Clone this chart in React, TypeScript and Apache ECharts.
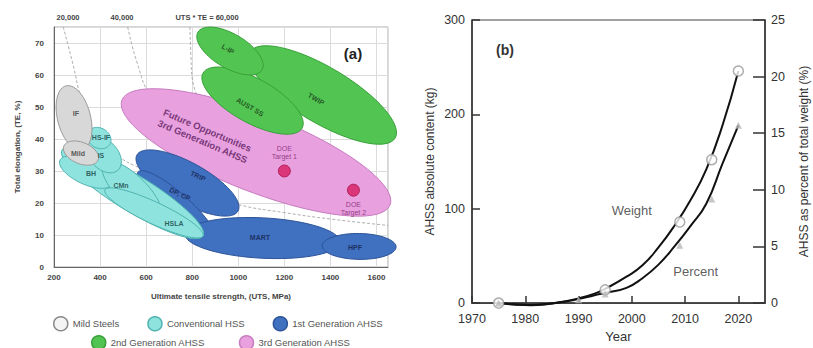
import React, { useEffect, useRef } from "react";
import * as echarts from "echarts";

// ---------- Panel (a) data: regions as [UTS1, TE1, UTS2, TE2, minor/major ratio] ----------
const mildSteels = [
  [252, 56.6, 322, 36.6, 0.5], // IF
  [243, 37.8, 391, 33.4, 0.58], // Mild
];
const conventionalHSS = [
  [235, 36.6, 847, 9.7, 0.22],
  [226, 33.4, 452, 25.9, 0.42], // BH
  [417, 32.5, 660, 15.3, 0.38], // CMn
  [421, 24.1, 847, 9.7, 0.2], // HSLA
  [356, 39.7, 478, 30.3, 0.68], // IS
  [348, 42.2, 443, 38.4, 0.8], // HS-IF
];
const firstGenAHSS = [
  [560, 35.0, 999, 17.5, 0.35], // TRIP
  [565, 29.7, 899, 8.4, 0.25], // DP, CP
  [769, 10.3, 1442, 7.8, 0.26], // MART
  [1364, 6.6, 1685, 6.25, 0.35], // HPF
];
const secondGenAHSS = [
  [1051, 67.2, 1681, 40.3, 0.33], // TWIP
  [847, 60.6, 1277, 43.4, 0.39], // AUST SS
  [825, 73.4, 1103, 61.6, 0.46], // L-IP
];
const thirdGenAHSS = [[495, 52.2, 1659, 19.4, 0.27]];

const doeTargets = [
  [1200, 30],
  [1500, 24],
];

const curve20k = [[240, 75], [280, 64], [320, 52], [370, 42], [450, 36], [600, 30], [800, 24], [1000, 19.5], [1200, 17], [1400, 15], [1650, 13]];
const curve40k = [[520, 75], [560, 64], [620, 53], [700, 46], [900, 38]];
const curve60k = [[790, 75], [795, 65], [800, 59], [830, 52]];

const regionLabels = [
  { name: "IF", at: [295, 48.1], rot: 0, c: "#333" },
  { name: "Mild", at: [304, 35.6], rot: 0, c: "#333" },
  { name: "HS-IF", at: [404, 40.6], rot: 0, c: "#15403f" },
  { name: "IS", at: [404, 35], rot: 0, c: "#15403f" },
  { name: "BH", at: [361, 29.1], rot: 0, c: "#15403f" },
  { name: "CMn", at: [491, 25.6], rot: 0, c: "#15403f" },
  { name: "HSLA", at: [721, 13.75], rot: 0, c: "#15403f" },
  { name: "TRIP", at: [825, 28.4], rot: -25, c: "#14214a" },
  { name: "DP, CP", at: [747, 22.8], rot: -25, c: "#14214a" },
  { name: "MART", at: [1094, 9.1], rot: 0, c: "#14214a" },
  { name: "HPF", at: [1507, 6.25], rot: 0, c: "#14214a" },
  { name: "L-IP", at: [955, 68.1], rot: -30, c: "#173a17" },
  { name: "AUST SS", at: [1051, 50], rot: -30, c: "#173a17" },
  { name: "TWIP", at: [1338, 52.5], rot: -30, c: "#173a17" },
];

// ---------- Panel (b) data ----------
const fitYears = [1975, 1978, 1981, 1984, 1987, 1990, 1993, 1995, 1999, 2002, 2005, 2008, 2011, 2014, 2017, 2020];
const weightFit = [0, -1.5, -2, -1, 1.5, 5, 10, 15, 28, 40, 59, 82, 109, 142, 188, 246];
const percentFit = [0, -0.12, -0.18, -0.1, 0.1, 0.35, 0.7, 0.9, 1.35, 2.2, 3.4, 5.0, 6.8, 8.8, 12.3, 15.7];
const weightYears = [1975, 1995, 2009, 2015, 2020];
const weightKg = [0, 14, 86, 152, 246];
const percentYears = [1975, 1990, 1995, 2009, 2015, 2020];
const percentVals = [0, 0.3, 0.8, 5.1, 9.2, 15.7];

const FONT = '"Liberation Sans", Arial, sans-serif';
const plain = (v: number) => String(v);

function ellipseRenderer(fill: string, stroke: string) {
  return (params: any, api: any) => {
    const p1 = api.coord([api.value(0), api.value(1)]);
    const p2 = api.coord([api.value(2), api.value(3)]);
    const ratio = api.value(4);
    const cx = (p1[0] + p2[0]) / 2;
    const cy = (p1[1] + p2[1]) / 2;
    const dx = p2[0] - p1[0];
    const dy = p2[1] - p1[1];
    const a = Math.hypot(dx, dy) / 2;
    const b = a * ratio;
    const ang = Math.atan2(dy, dx);
    const ca = Math.cos(ang);
    const sa = Math.sin(ang);
    const pts: number[][] = [];
    for (let i = 0; i < 72; i++) {
      const t = (i / 72) * Math.PI * 2;
      const ex = a * Math.cos(t);
      const ey = b * Math.sin(t);
      pts.push([cx + ex * ca - ey * sa, cy + ex * sa + ey * ca]);
    }
    return {
      type: "polygon",
      shape: { points: pts },
      style: { fill, stroke, lineWidth: 1 },
    };
  };
}

const COLORS = {
  gray: ["#d8d8d8", "#9a9a9a"],
  cyan: ["#8fe3de", "#4fb3b0"],
  blue: ["#4070c0", "#2c5398"],
  green: ["#52c452", "#38a038"],
  pink: ["#e8a0de", "#c77cc0"],
};

function regionSeries(name: string, data: number[][], col: string[]) {
  return {
    type: "custom",
    name,
    coordinateSystem: "cartesian2d",
    xAxisIndex: 0,
    yAxisIndex: 0,
    renderItem: ellipseRenderer(col[0], col[1]),
    data,
    encode: { x: [0, 2], y: [1, 3] },
    silent: true,
    z: 2,
  };
}

function curveSeries(data: number[][]) {
  return {
    type: "line",
    xAxisIndex: 0,
    yAxisIndex: 0,
    data,
    symbol: "none",
    smooth: true,
    lineStyle: { color: "#9a9a9a", width: 0.8, type: [3, 2] },
    silent: true,
    z: 1,
  };
}

export default function App() {
  const ref = useRef<HTMLDivElement>(null);
  useEffect(() => {
    if (!ref.current) return;
    const chart = echarts.init(ref.current, undefined, { renderer: "svg" });
    const smallAxisText = { fontSize: 8, fontWeight: "bold", color: "#444", fontFamily: FONT };
    const option: any = {
      animation: false,
      backgroundColor: "#fff",
      textStyle: { fontFamily: FONT },
      grid: [
        { left: 54, top: 27, width: 334, height: 240, show: true, borderColor: "#aaa", borderWidth: 1 },
        { left: 472, top: 20, width: 293, height: 287, show: true, borderColor: "#444", borderWidth: 1.2 },
      ],
      xAxis: [
        {
          gridIndex: 0,
          type: "value",
          min: 200,
          max: 1650,
          interval: 200,
          axisLine: { lineStyle: { color: "#666" } },
          axisTick: { show: false },
          axisLabel: { ...smallAxisText, margin: 6, showMaxLabel: false, formatter: plain },
          splitLine: { lineStyle: { color: "#dcdcdc" } },
          name: "Ultimate tensile strength, (UTS, MPa)",
          nameLocation: "middle",
          nameGap: 25,
          nameTextStyle: smallAxisText,
        },
        {
          gridIndex: 1,
          type: "value",
          min: 1970,
          max: 2025,
          interval: 10,
          axisLine: { lineStyle: { color: "#333", width: 1.5 } },
          axisTick: { inside: true, length: 7, lineStyle: { color: "#333", width: 1.5 } },
          axisLabel: { fontSize: 12.5, color: "#333", margin: 9, showMaxLabel: false, formatter: plain },
          splitLine: { show: false },
          name: "Year",
          nameLocation: "middle",
          nameGap: 26,
          nameTextStyle: { fontSize: 13, color: "#333" },
        },
      ],
      yAxis: [
        {
          gridIndex: 0,
          type: "value",
          min: 0,
          max: 75,
          interval: 10,
          axisLine: { show: true, lineStyle: { color: "#666" } },
          axisTick: { show: false },
          axisLabel: { ...smallAxisText, margin: 10, showMaxLabel: false, formatter: plain },
          splitLine: { lineStyle: { color: "#dcdcdc" } },
          name: "Total elongation, (TE, %)",
          nameLocation: "middle",
          nameRotate: 90,
          nameGap: 33,
          nameTextStyle: smallAxisText,
        },
        {
          gridIndex: 1,
          type: "value",
          min: 0,
          max: 300,
          interval: 100,
          axisLine: { show: true, lineStyle: { color: "#333", width: 1.5 } },
          axisTick: { show: true, inside: true, length: 8, lineStyle: { color: "#333", width: 1.5 } },
          axisLabel: { fontSize: 12.5, color: "#333", margin: 7, formatter: plain },
          splitLine: { show: false },
          name: "AHSS absolute content (kg)",
          nameLocation: "middle",
          nameRotate: 90,
          nameGap: 36,
          nameTextStyle: { fontSize: 12, color: "#333" },
        },
        {
          gridIndex: 1,
          type: "value",
          position: "right",
          min: 0,
          max: 25,
          interval: 5,
          axisLine: { show: true, lineStyle: { color: "#333", width: 1.5 } },
          axisTick: { show: true, inside: true, length: 12, lineStyle: { color: "#333", width: 1.5 } },
          axisLabel: { fontSize: 12.5, color: "#333", margin: 6, formatter: plain },
          splitLine: { show: false },
          name: "AHSS as percent of total weight (%)",
          nameLocation: "middle",
          nameRotate: 90,
          nameGap: 33,
          nameTextStyle: { fontSize: 12, color: "#333" },
        },
      ],
      legend: [
        {
          left: 48,
          top: 311,
          itemWidth: 14,
          itemHeight: 14,
          itemGap: 28,
          selectedMode: false,
          textStyle: { fontSize: 9.5, color: "#555", fontFamily: FONT },
          data: [
            { name: "Mild Steels", icon: "circle", itemStyle: { color: "#f4f4f4", borderColor: "#888", borderWidth: 1.5 } },
            { name: "Conventional HSS", icon: "circle", itemStyle: { color: COLORS.cyan[0], borderColor: COLORS.cyan[1], borderWidth: 1.5 } },
            { name: "1st Generation AHSS", icon: "circle", itemStyle: { color: COLORS.blue[0], borderColor: COLORS.blue[1], borderWidth: 1.5 } },
          ],
        },
        {
          left: 86,
          top: 330,
          itemWidth: 14,
          itemHeight: 14,
          itemGap: 34,
          selectedMode: false,
          textStyle: { fontSize: 9.5, color: "#555", fontFamily: FONT },
          data: [
            { name: "2nd Generation AHSS", icon: "circle", itemStyle: { color: COLORS.green[0], borderColor: COLORS.green[1], borderWidth: 1.5 } },
            { name: "3rd Generation AHSS", icon: "circle", itemStyle: { color: COLORS.pink[0], borderColor: COLORS.pink[1], borderWidth: 1.5 } },
          ],
        },
      ],
      graphic: [
        { type: "text", x: 68, y: 17, style: { text: "20,000", align: "center", verticalAlign: "middle", fontSize: 7.5, fontWeight: "bold", fill: "#444", fontFamily: FONT } },
        { type: "text", x: 122, y: 17, style: { text: "40,000", align: "center", verticalAlign: "middle", fontSize: 7.5, fontWeight: "bold", fill: "#444", fontFamily: FONT } },
        { type: "text", x: 207, y: 17, style: { text: "UTS * TE = 60,000", align: "center", verticalAlign: "middle", fontSize: 7.5, fontWeight: "bold", fill: "#444", fontFamily: FONT } },
        { type: "text", x: 353, y: 53, z: 100, style: { text: "(a)", align: "center", verticalAlign: "middle", fontSize: 15, fontWeight: "bold", fill: "#222", fontFamily: FONT } },
        { type: "text", x: 505, y: 50, z: 100, style: { text: "(b)", align: "center", verticalAlign: "middle", fontSize: 14, fontWeight: "bold", fill: "#333", fontFamily: FONT } },
      ],
      series: [
        curveSeries(curve20k),
        curveSeries(curve40k),
        curveSeries(curve60k),
        regionSeries("3rd Generation AHSS", thirdGenAHSS, COLORS.pink),
        regionSeries("1st Generation AHSS", firstGenAHSS, COLORS.blue),
        regionSeries("Conventional HSS", conventionalHSS, COLORS.cyan),
        regionSeries("Mild Steels", mildSteels, COLORS.gray),
        regionSeries("2nd Generation AHSS", secondGenAHSS, COLORS.green),
        {
          type: "scatter",
          name: "DOE Targets",
          xAxisIndex: 0,
          yAxisIndex: 0,
          symbolSize: 12,
          itemStyle: { color: "#d81c62", borderColor: "#a5104a", borderWidth: 1 },
          z: 5,
          data: [
            { value: doeTargets[0], label: { show: true, position: "top", distance: 4, formatter: "DOE\nTarget 1" } },
            { value: doeTargets[1], label: { show: true, position: "bottom", distance: 4, formatter: "DOE\nTarget 2" } },
          ],
          label: { fontSize: 7, color: "#7d2270", lineHeight: 8, fontFamily: FONT },
          silent: true,
        },
        {
          type: "scatter",
          name: "Region labels",
          xAxisIndex: 0,
          yAxisIndex: 0,
          symbolSize: 1,
          itemStyle: { color: "transparent" },
          z: 6,
          silent: true,
          label: { show: true, position: "inside", formatter: "{b}", fontSize: 7, fontWeight: "bold", fontFamily: FONT },
          data: [
            ...regionLabels.map((r) => ({ name: r.name, value: r.at, label: { rotate: r.rot, color: r.c } })),
            {
              name: "Future Opportunities\n3rd Generation AHSS",
              value: [856, 41],
              label: { rotate: -23, color: "#5a1a5e", fontSize: 9.5, lineHeight: 12 },
            },
          ],
        },
        {
          type: "line",
          name: "Weight fit",
          xAxisIndex: 1,
          yAxisIndex: 1,
          data: fitYears.map((y, i) => [y, weightFit[i]]),
          symbol: "none",
          smooth: true,
          clip: false,
          lineStyle: { color: "#111", width: 2 },
          z: 3,
          silent: true,
        },
        {
          type: "line",
          name: "Percent fit",
          xAxisIndex: 1,
          yAxisIndex: 2,
          data: fitYears.map((y, i) => [y, percentFit[i]]),
          symbol: "none",
          smooth: true,
          clip: false,
          lineStyle: { color: "#111", width: 2 },
          z: 3,
          silent: true,
        },
        {
          type: "scatter",
          name: "Weight",
          xAxisIndex: 1,
          yAxisIndex: 1,
          data: weightYears.map((y, i) => [y, weightKg[i]]),
          symbol: "circle",
          symbolSize: 10,
          itemStyle: { color: "#fff", borderColor: "#999", borderWidth: 1.5 },
          z: 4,
          silent: true,
        },
        {
          type: "scatter",
          name: "Percent",
          xAxisIndex: 1,
          yAxisIndex: 2,
          data: percentYears.map((y, i) => [y, percentVals[i]]),
          symbol: "triangle",
          symbolSize: 7,
          itemStyle: { color: "#b8b8b8" },
          z: 4,
          silent: true,
        },
        {
          type: "scatter",
          name: "Curve labels",
          xAxisIndex: 1,
          yAxisIndex: 1,
          symbolSize: 1,
          itemStyle: { color: "transparent" },
          silent: true,
          label: { show: true, position: "inside", formatter: "{b}", fontSize: 13, color: "#333", fontFamily: FONT },
          data: [
            { name: "Weight", value: [2000, 98] },
            { name: "Percent", value: [2012, 33] },
          ],
        },
      ],
    };
    chart.setOption(option);
    return () => chart.dispose();
  }, []);
  return (
    <div
      ref={ref}
      style={{ position: "absolute", left: 0, top: 0, width: 813, height: 348, background: "#fff" }}
    />
  );
}
